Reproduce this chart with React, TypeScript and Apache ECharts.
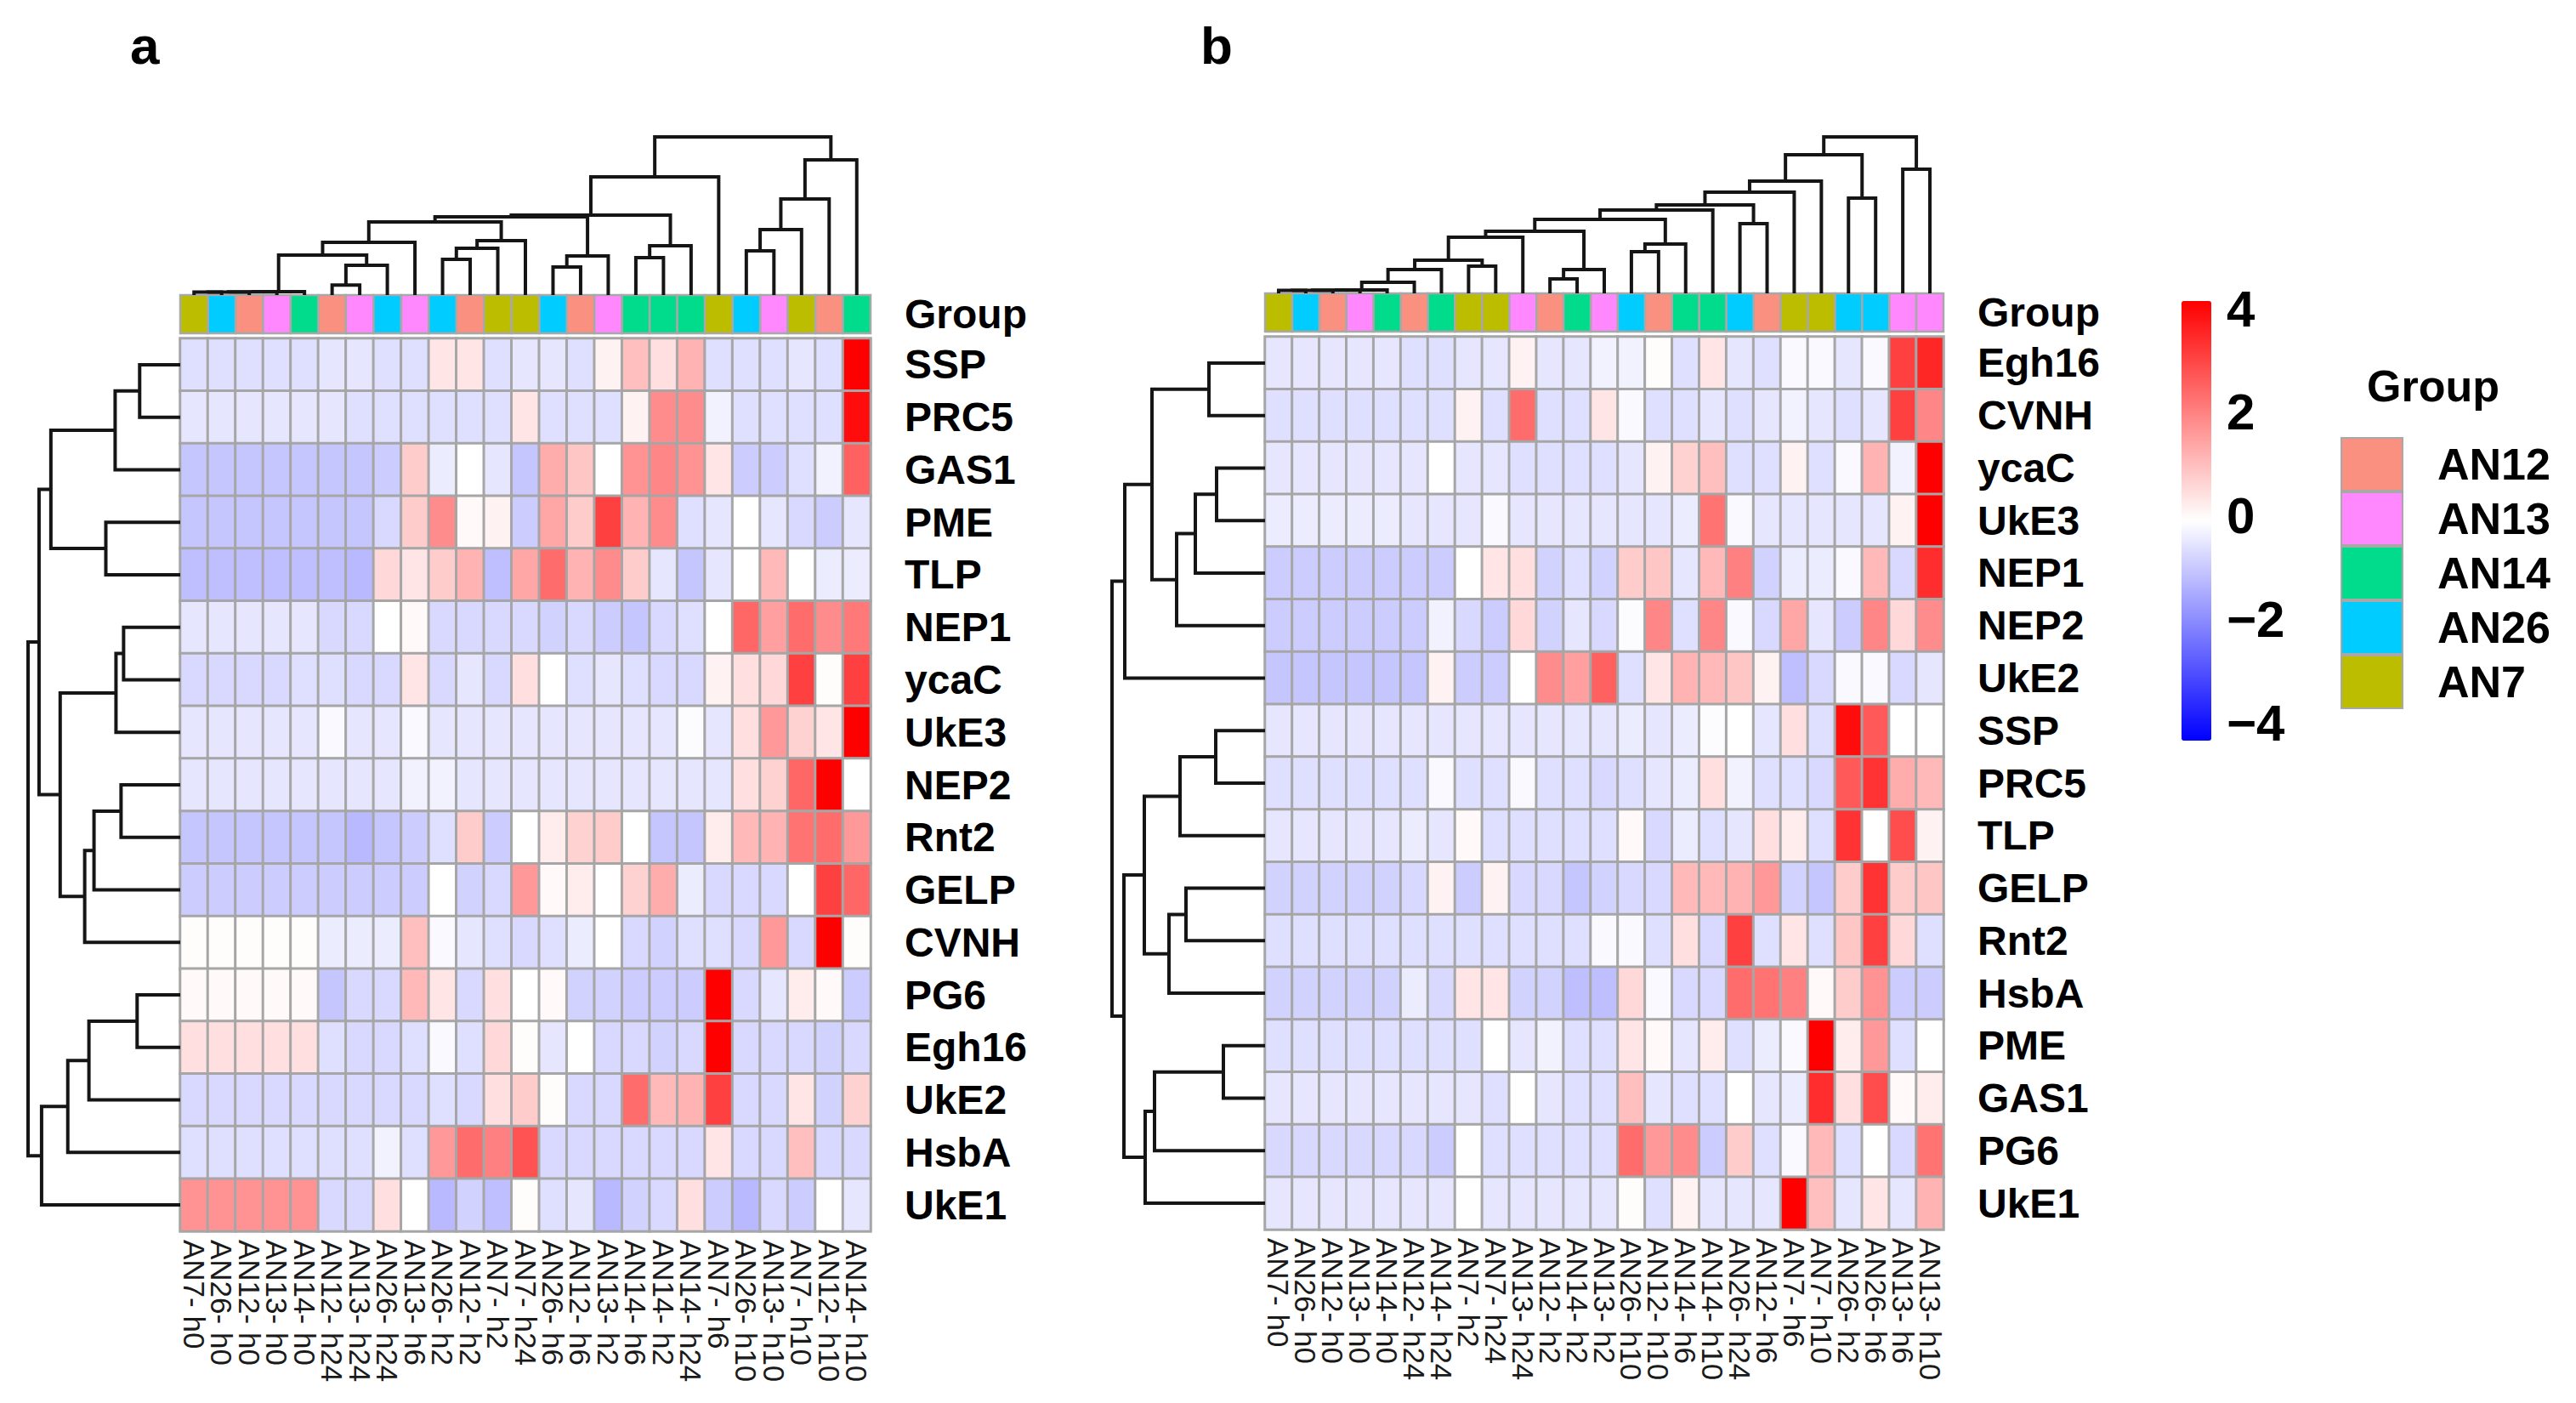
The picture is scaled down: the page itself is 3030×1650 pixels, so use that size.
import React, { useEffect, useRef } from 'react';
import * as echarts from 'echarts';

const FONT = 'Liberation Sans, Arial, Helvetica, sans-serif';

const groupNames = ['AN12', 'AN13', 'AN14', 'AN26', 'AN7'];
const groupColors = ['#FA9080', '#FF88FF', '#00DC8C', '#00CCFF', '#BDBD00'];

const rowsA = ['SSP', 'PRC5', 'GAS1', 'PME', 'TLP', 'NEP1', 'ycaC', 'UkE3', 'NEP2', 'Rnt2', 'GELP', 'CVNH', 'PG6', 'Egh16', 'UkE2', 'HsbA', 'UkE1'];
const colsA = ['AN7- h0', 'AN26- h0', 'AN12- h0', 'AN13- h0', 'AN14- h0', 'AN12- h24', 'AN13- h24', 'AN26- h24', 'AN13- h6', 'AN26- h2', 'AN12- h2', 'AN7- h2', 'AN7- h24', 'AN26- h6', 'AN12- h6', 'AN13- h2', 'AN14- h6', 'AN14- h2', 'AN14- h24', 'AN7- h6', 'AN26- h10', 'AN13- h10', 'AN7- h10', 'AN12- h10', 'AN14- h10'];
const valuesA = [
  [-0.5, -0.5, -0.5, -0.5, -0.5, -0.4, -0.4, -0.5, -0.5, 0.4, 0.4, -0.5, -0.4, -0.4, -0.5, 0.2, 1.0, 0.5, 1.2, -0.5, -0.5, -0.5, -0.4, -0.5, 4.0],
  [-0.4, -0.4, -0.4, -0.4, -0.4, -0.4, -0.5, -0.5, -0.5, -0.5, -0.5, -0.5, 0.4, -0.5, -0.5, -0.5, 0.2, 1.8, 1.8, -0.2, -0.5, -0.5, -0.5, -0.5, 3.8],
  [-0.9, -0.9, -0.9, -0.9, -0.9, -0.9, -0.9, -0.8, 0.8, -0.3, 0, -0.4, -0.9, 1.3, 0.9, 0, 1.7, 1.9, 1.7, 0.4, -0.8, -0.8, -0.5, -0.2, 2.5],
  [-0.9, -0.9, -0.9, -0.9, -0.9, -0.9, -0.9, -0.6, 0.8, 1.8, 0.1, 0.2, -0.8, 1.4, 0.8, 3.0, 1.2, 1.8, -0.5, -0.4, 0, -0.4, -0.6, -0.8, -0.4],
  [-1.0, -1.0, -1.0, -1.0, -1.0, -1.0, -1.1, 0.6, 0.4, 0.8, 1.2, -1.0, 1.4, 2.3, 1.2, 1.8, 0.8, -0.4, -0.9, -0.4, 0, 1.1, 0, -0.3, -0.3],
  [-0.4, -0.4, -0.4, -0.4, -0.4, -0.6, -0.6, 0, 0.1, -0.6, -0.6, -0.6, -0.6, -0.7, -0.6, -0.8, -0.9, -0.6, -0.5, 0, 2.4, 1.5, 2.3, 1.8, 2.1],
  [-0.6, -0.6, -0.6, -0.6, -0.5, -0.5, -0.6, -0.6, 0.4, -0.6, -0.4, -0.6, 0.5, 0, -0.5, -0.4, -0.5, -0.6, -0.6, 0.2, 0.5, 0.6, 3.0, 0.05, 3.0],
  [-0.4, -0.4, -0.4, -0.4, -0.4, -0.1, -0.4, -0.4, -0.1, -0.4, -0.4, -0.4, -0.4, -0.4, -0.4, -0.4, -0.4, -0.4, -0.05, -0.4, 0.5, 1.6, 0.7, 0.4, 4.0],
  [-0.4, -0.4, -0.4, -0.4, -0.4, -0.4, -0.4, -0.4, -0.2, -0.2, -0.4, -0.4, -0.4, -0.4, -0.4, -0.4, -0.4, -0.4, -0.4, -0.4, 0.5, 0.7, 2.4, 4.0, 0],
  [-0.9, -0.9, -0.9, -0.9, -0.9, -0.9, -1.1, -0.9, -0.8, -0.5, 0.8, -0.8, 0, 0.3, 0.7, 0.8, 0, -0.9, -0.9, 0.3, 1.1, 1.2, 2.2, 2.3, 1.6],
  [-0.8, -0.8, -0.8, -0.8, -0.8, -0.8, -0.8, -0.8, -0.8, 0, -0.7, -0.6, 1.6, 0.1, 0.3, 0, 0.7, 1.3, -0.3, -0.6, -0.6, -0.6, 0, 3.0, 2.4],
  [0.05, 0.05, 0.05, 0.05, 0.05, -0.3, -0.3, -0.3, 1.0, -0.1, -0.4, -0.5, -0.6, -0.5, -0.3, 0, -0.6, -0.7, -0.5, -0.5, -0.6, 1.6, -0.6, 4.0, 0.05],
  [0.1, 0.1, 0.1, 0.1, 0.1, -0.9, -0.6, -0.6, 1.1, 0.4, -0.6, 0.5, 0, 0.1, -0.7, -0.7, -0.8, -0.8, -0.8, 4.0, -0.6, -0.4, 0.3, 0.1, -0.8],
  [0.5, 0.5, 0.5, 0.5, 0.5, -0.5, -0.6, -0.6, -0.5, -0.1, -0.5, 0.6, 0.05, -0.4, 0, -0.6, -0.6, -0.7, -0.6, 4.0, -0.6, -0.6, -0.6, -0.7, -0.6],
  [-0.6, -0.6, -0.6, -0.6, -0.6, -0.6, -0.6, -0.6, -0.6, -0.5, -0.6, 0.5, 0.8, 0.05, -0.6, -0.6, 2.3, 1.1, 1.2, 3.0, -0.6, -0.6, 0.4, -0.7, 0.7],
  [-0.5, -0.5, -0.5, -0.5, -0.5, -0.5, -0.5, -0.2, -0.5, 1.6, 2.3, 2.0, 2.7, -0.6, -0.6, -0.6, -0.6, -0.6, -0.6, 0.4, -0.6, -0.6, 1.0, -0.6, -0.6],
  [1.7, 1.7, 1.7, 1.7, 1.7, -0.6, -0.6, 0.5, 0, -1.1, -0.7, -1.0, 0.05, -0.5, -0.4, -1.1, -0.7, -0.6, 0.5, -0.8, -1.1, -0.6, -0.8, 0, -0.4],
];

const rowsB = ['Egh16', 'CVNH', 'ycaC', 'UkE3', 'NEP1', 'NEP2', 'UkE2', 'SSP', 'PRC5', 'TLP', 'GELP', 'Rnt2', 'HsbA', 'PME', 'GAS1', 'PG6', 'UkE1'];
const colsB = ['AN7- h0', 'AN26- h0', 'AN12- h0', 'AN13- h0', 'AN14- h0', 'AN12- h24', 'AN14- h24', 'AN7- h2', 'AN7- h24', 'AN13- h24', 'AN12- h2', 'AN14- h2', 'AN13- h2', 'AN26- h10', 'AN12- h10', 'AN14- h6', 'AN14- h10', 'AN26- h24', 'AN12- h6', 'AN7- h6', 'AN7- h10', 'AN26- h2', 'AN26- h6', 'AN13- h6', 'AN13- h10'];
const valuesB = [
  [-0.4, -0.4, -0.4, -0.4, -0.4, -0.5, -0.5, -0.4, -0.4, 0.2, -0.4, -0.4, -0.2, -0.2, 0.05, -0.5, 0.4, -0.4, -0.5, -0.1, -0.1, -0.4, -0.1, 3.0, 3.4],
  [-0.5, -0.5, -0.5, -0.5, -0.5, -0.5, -0.5, 0.2, -0.5, 2.3, -0.5, -0.5, 0.4, -0.1, -0.5, -0.5, -0.4, -0.5, -0.4, -0.2, -0.4, -0.5, -0.4, 3.0, 1.9],
  [-0.4, -0.4, -0.4, -0.4, -0.4, -0.4, 0, -0.4, -0.4, -0.5, -0.5, -0.5, -0.5, -0.4, 0.2, 0.7, 1.0, -0.5, -0.5, 0.2, -0.5, -0.1, 1.2, -0.2, 4.0],
  [-0.3, -0.3, -0.3, -0.3, -0.3, -0.4, -0.4, -0.4, -0.1, -0.4, -0.4, -0.4, -0.4, -0.4, -0.4, -0.3, 2.2, -0.1, -0.4, -0.4, -0.4, -0.4, -0.4, 0.2, 4.0],
  [-0.8, -0.8, -0.8, -0.8, -0.8, -0.8, -0.8, 0, 0.4, 0.5, -0.7, -0.5, -0.7, 0.8, 0.9, -0.4, 1.1, 2.0, -0.7, -0.3, -0.3, -0.1, 1.1, -0.6, 3.3],
  [-0.8, -0.8, -0.8, -0.8, -0.8, -0.8, -0.2, -0.6, -0.8, 0.6, -0.7, -0.4, -0.6, -0.05, 1.9, -0.5, 1.9, -0.1, -0.6, 1.4, -0.4, -0.8, 1.9, 0.6, 1.8],
  [-0.9, -0.9, -0.9, -0.9, -0.9, -0.9, 0.2, -0.8, -0.8, 0, 1.8, 1.5, 2.5, -0.5, 0.4, 1.2, 1.1, 0.9, 0.2, -1.0, -0.6, -0.1, -0.1, -0.6, -0.4],
  [-0.4, -0.4, -0.4, -0.4, -0.4, -0.4, -0.4, -0.4, -0.4, -0.4, -0.4, -0.4, -0.4, -0.3, -0.4, -0.3, -0.05, 0, -0.4, 0.5, -0.5, 3.8, 2.6, 0, 0],
  [-0.5, -0.5, -0.5, -0.5, -0.5, -0.5, -0.1, -0.5, -0.5, -0.1, -0.5, -0.5, -0.6, -0.5, -0.4, -0.3, 0.5, -0.2, -0.5, -0.5, -0.6, 2.6, 3.2, 1.3, 1.1],
  [-0.4, -0.4, -0.4, -0.4, -0.4, -0.3, -0.4, 0.1, -0.5, -0.5, -0.5, -0.5, -0.5, 0.1, -0.6, -0.3, -0.5, -0.4, 0.5, 0.3, -0.5, 3.2, 0, 2.8, 0.2],
  [-0.7, -0.7, -0.7, -0.7, -0.7, -0.6, 0.2, -0.8, 0.2, -0.6, -0.6, -0.9, -0.7, -0.6, -0.6, 1.1, 1.1, 1.2, 1.6, -0.7, -0.9, 0.8, 3.2, 0.8, 0.9],
  [-0.5, -0.5, -0.5, -0.5, -0.5, -0.5, -0.5, -0.5, -0.5, -0.5, -0.5, -0.5, -0.1, -0.1, -0.5, 0.5, -0.6, 3.0, -0.5, 0.4, -0.5, 0.9, 3.0, 0.6, -0.5],
  [-0.7, -0.7, -0.7, -0.7, -0.7, -0.3, -0.6, 0.4, 0.4, -0.7, -0.7, -1.0, -1.0, 0.6, -0.1, -0.6, -0.6, 2.3, 2.2, 2.0, 0.1, 0.8, 1.7, -0.8, -0.8],
  [-0.5, -0.5, -0.5, -0.5, -0.5, -0.5, -0.5, -0.5, 0, -0.4, -0.2, -0.5, -0.5, 0.4, 0.1, -0.4, 0.3, -0.5, -0.3, -0.1, 4.0, 0.3, 1.6, -0.5, 0],
  [-0.4, -0.4, -0.4, -0.4, -0.4, -0.4, -0.4, -0.4, -0.5, 0, -0.4, -0.5, -0.5, 1.0, -0.4, -0.5, -0.5, 0, -0.4, -0.3, 3.3, 0.5, 2.8, 0.1, 0.3],
  [-0.6, -0.6, -0.6, -0.6, -0.6, -0.6, -0.8, 0, -0.5, -0.5, -0.5, -0.5, -0.5, 2.3, 1.6, 1.8, -0.8, 0.8, -0.5, -0.1, 1.1, -0.5, 0, -0.6, 2.2],
  [-0.4, -0.4, -0.4, -0.4, -0.4, -0.4, -0.4, 0, -0.4, -0.4, -0.4, -0.4, -0.4, 0.05, -0.5, 0.2, -0.4, -0.4, -0.4, 4.0, 1.0, -0.4, 0.4, -0.4, 1.2],
];

// hclust-style merges: negative = leaf (1-based display position), positive = earlier merge
const colMergeA = [[-1, -2], [1, -3], [2, -4], [3, -5], [-6, -7], [5, -8], [4, 6], [7, -9], [-10, -11], [9, -12], [10, -13], [8, 11], [-14, -15], [13, -16], [12, 14], [-17, -18], [16, -19], [15, 17], [18, -20], [-21, -22], [20, -23], [21, -24], [22, -25], [19, 23]];
const colHeightA = [3.4, 3.6, 3.8, 4, 11.7, 35, 47, 62, 42, 55, 64, 86, 33, 46, 92, 44, 58, 94, 139, 52, 77, 113, 159, 186];
const colMergeB = [[-1, -2], [1, -3], [2, -4], [3, -5], [4, -6], [5, -7], [-8, -9], [6, 7], [8, -10], [-11, -12], [10, -13], [9, 11], [-14, -15], [13, -16], [12, 14], [15, -17], [-18, -19], [16, 17], [18, -20], [19, -21], [-22, -23], [20, 21], [-24, -25], [22, 23]];
const colHeightB = [3.4, 3.6, 3.8, 4, 13, 28, 32, 39, 66, 17, 28, 73, 49, 58, 87, 98, 82, 104, 119, 132, 112, 163, 146, 184];
const rowMergeA = [[-1, -2], [1, -3], [-4, -5], [2, 3], [-6, -7], [5, -8], [-9, -10], [7, -11], [8, -12], [6, 9], [4, 10], [-13, -14], [12, -15], [13, -16], [14, -17], [11, 15]];
const rowHeightA = [48, 77, 88, 153, 67, 76, 70, 102, 113, 142, 167, 51, 108, 133, 164, 180];
const rowMergeB = [[-1, -2], [-3, -4], [2, -5], [3, -6], [1, 4], [5, -7], [-8, -9], [7, -10], [-11, -12], [9, -13], [8, 10], [-14, -15], [12, -16], [13, -17], [11, 14], [6, 15]];
const rowHeightB = [66, 57, 82, 104, 133, 165, 58, 100, 93, 113, 142, 49, 130, 141, 166, 180];

const scaleMin = -4;
const scaleMax = 4;
const scaleStep = 2;

function dendroSegments(merge: number[][], heights: number[]) {
  const pos: number[] = [];
  const segs: number[][][] = [];
  const p = (k: number) => (k < 0 ? -k - 1 : pos[k - 1]);
  const h = (k: number) => (k < 0 ? 0 : heights[k - 1]);
  merge.forEach(([a, b], i) => {
    const H = heights[i];
    segs.push([[p(a), h(a)], [p(a), H], [p(b), H], [p(b), h(b)]]);
    pos[i] = (p(a) + p(b)) / 2;
  });
  return segs;
}

const groupOf = (label: string) => label.split('-')[0];

function heatData(values: number[][]) {
  const out: number[][] = [];
  values.forEach((row, r) => row.forEach((v, c) => out.push([c, r, v])));
  return out;
}

function annotSeries(cols: string[], axisIdx: number) {
  return groupNames.map((g, gi) => ({
    type: 'custom',
    name: g,
    xAxisIndex: axisIdx,
    yAxisIndex: axisIdx,
    itemStyle: { color: groupColors[gi] },
    encode: { x: 0, y: 1 },
    data: cols.map((c, i) => ({ c, i })).filter((d) => groupOf(d.c) === g).map((d) => [d.i, 0]),
    renderItem: (params: any, api: any) => {
      const pt = api.coord([api.value(0), api.value(1)]);
      const s = api.size([1, 1]);
      return {
        type: 'rect',
        shape: { x: pt[0] - s[0] / 2, y: pt[1] - s[1] / 2, width: s[0], height: s[1] },
        style: { fill: groupColors[gi], stroke: '#A8A8A8', lineWidth: 2.5 },
      };
    },
  }));
}

function dendroSeries(segs: number[][][], axisIdx: number, rotateRows: boolean) {
  return {
    type: 'lines',
    coordinateSystem: 'cartesian2d',
    xAxisIndex: axisIdx,
    yAxisIndex: axisIdx,
    polyline: true,
    clip: false,
    silent: true,
    lineStyle: { color: '#151515', width: 4, opacity: 1 },
    data: segs.map((s) => ({ coords: rotateRows ? s.map(([x, y]) => [y, x]) : s })),
  };
}

const hidden = { show: false };

export default function App() {
  const ref = useRef<HTMLDivElement>(null);
  useEffect(() => {
    document.body.style.margin = '0';
    document.body.style.overflow = 'hidden';
    if (!ref.current) return;
    const chart = echarts.init(ref.current, null, { renderer: 'svg' });

    const heatGridA = { left: 212, top: 398, width: 812, height: 1050 };
    const heatGridB = { left: 1488, top: 396, width: 798, height: 1050 };

    const grids = [
      heatGridA,
      { left: 212, top: 347, width: 812, height: 45 },
      { left: 212, top: 161, width: 812, height: 186 },
      { left: 33, top: 398, width: 179, height: 1050 },
      heatGridB,
      { left: 1488, top: 345, width: 798, height: 45 },
      { left: 1488, top: 161, width: 798, height: 184 },
      { left: 1308, top: 396, width: 180, height: 1050 },
      { left: 2566, top: 363, width: 35, height: 487 },
    ];

    const xLabel = { rotate: -90, fontSize: 35, color: '#1a1a1a', fontFamily: FONT, margin: 10, interval: 0 };
    const yLabel = { fontSize: 48, fontWeight: 'bold', color: '#000', fontFamily: FONT, margin: 40, interval: 0 };
    const noLines = { axisLine: { show: false }, axisTick: { show: false }, splitLine: { show: false } };

    const catX = (data: string[], showLabel: boolean) => ({
      type: 'category', data, ...noLines,
      axisLabel: showLabel ? xLabel : { show: false },
    });

    const xAxes: any[] = [
      { gridIndex: 0, ...catX(colsA, true) },
      { gridIndex: 1, ...catX(colsA, false) },
      { gridIndex: 2, type: 'value', min: -0.5, max: 24.5, ...hidden },
      { gridIndex: 3, type: 'value', min: 0, max: 180, inverse: true, ...hidden },
      { gridIndex: 4, ...catX(colsB, true) },
      { gridIndex: 5, ...catX(colsB, false) },
      { gridIndex: 6, type: 'value', min: -0.5, max: 24.5, ...hidden },
      { gridIndex: 7, type: 'value', min: 0, max: 180, inverse: true, ...hidden },
      { gridIndex: 8, type: 'value', min: 0, max: 1, ...hidden },
    ];
    const yAxes: any[] = [
      { gridIndex: 0, type: 'category', data: rowsA, inverse: true, position: 'right', ...noLines, axisLabel: yLabel },
      { gridIndex: 1, type: 'category', data: ['Group'], position: 'right', ...noLines, axisLabel: yLabel },
      { gridIndex: 2, type: 'value', min: 0, max: 186, ...hidden },
      { gridIndex: 3, type: 'value', min: -0.5, max: 16.5, inverse: true, ...hidden },
      { gridIndex: 4, type: 'category', data: rowsB, inverse: true, position: 'right', ...noLines, axisLabel: yLabel },
      { gridIndex: 5, type: 'category', data: ['Group'], position: 'right', ...noLines, axisLabel: yLabel },
      { gridIndex: 6, type: 'value', min: 0, max: 184, ...hidden },
      { gridIndex: 7, type: 'value', min: -0.5, max: 16.5, inverse: true, ...hidden },
      {
        gridIndex: 8, type: 'value', min: scaleMin, max: scaleMax, interval: scaleStep, position: 'right', ...noLines,
        axisLabel: {
          fontSize: 60, fontWeight: 'bold', color: '#000', fontFamily: FONT, margin: 18,
          formatter: (v: number) => (v < 0 ? '\u2212' + Math.abs(v) : String(v)),
        },
      },
    ];

    const heatStyle = { borderColor: '#A6A6A6', borderWidth: 3 };

    const series: any[] = [
      { type: 'heatmap', xAxisIndex: 0, yAxisIndex: 0, data: heatData(valuesA), itemStyle: heatStyle, emphasis: { disabled: true } },
      { type: 'heatmap', xAxisIndex: 4, yAxisIndex: 4, data: heatData(valuesB), itemStyle: heatStyle, emphasis: { disabled: true } },
      ...annotSeries(colsA, 1),
      ...annotSeries(colsB, 5),
      dendroSeries(dendroSegments(colMergeA, colHeightA), 2, false),
      dendroSeries(dendroSegments(rowMergeA, rowHeightA), 3, true),
      dendroSeries(dendroSegments(colMergeB, colHeightB), 6, false),
      dendroSeries(dendroSegments(rowMergeB, rowHeightB), 7, true),
    ];

    chart.setOption({
      animation: false,
      backgroundColor: '#ffffff',
      textStyle: { fontFamily: FONT },
      title: [
        { text: 'a', left: 153, top: 22, padding: 0, textStyle: { fontSize: 62, fontWeight: 'bold', color: '#000', fontFamily: FONT } },
        { text: 'b', left: 1412, top: 22, padding: 0, textStyle: { fontSize: 62, fontWeight: 'bold', color: '#000', fontFamily: FONT } },
        { text: 'Group', left: 2784, top: 428, padding: 0, textStyle: { fontSize: 52, fontWeight: 'bold', color: '#000', fontFamily: FONT } },
      ],
      grid: grids,
      xAxis: xAxes,
      yAxis: yAxes,
      visualMap: {
        type: 'continuous',
        seriesIndex: [0, 1],
        min: scaleMin,
        max: scaleMax,
        calculable: false,
        hoverLink: false,
        left: 2566,
        top: 354,
        itemWidth: 35,
        itemHeight: 517,
        padding: 0,
        text: null,
        inRange: { color: ['#0000FF', '#FFFFFF', '#FF0000'] },
      },
      legend: {
        data: groupNames.map((n) => ({ name: n, icon: 'rect' })),
        orient: 'vertical',
        left: 2753,
        top: 514,
        itemWidth: 72,
        itemHeight: 62,
        itemGap: 0,
        padding: 0,
        selectedMode: false,
        itemStyle: { borderColor: '#A8A8A8', borderWidth: 2 },
        textStyle: { fontSize: 52, fontWeight: 'bold', color: '#000', fontFamily: FONT, padding: [0, 0, 0, 36] },
      },
      series,
    });

    return () => chart.dispose();
  }, []);

  return <div ref={ref} style={{ width: 3030, height: 1650 }} />;
}
